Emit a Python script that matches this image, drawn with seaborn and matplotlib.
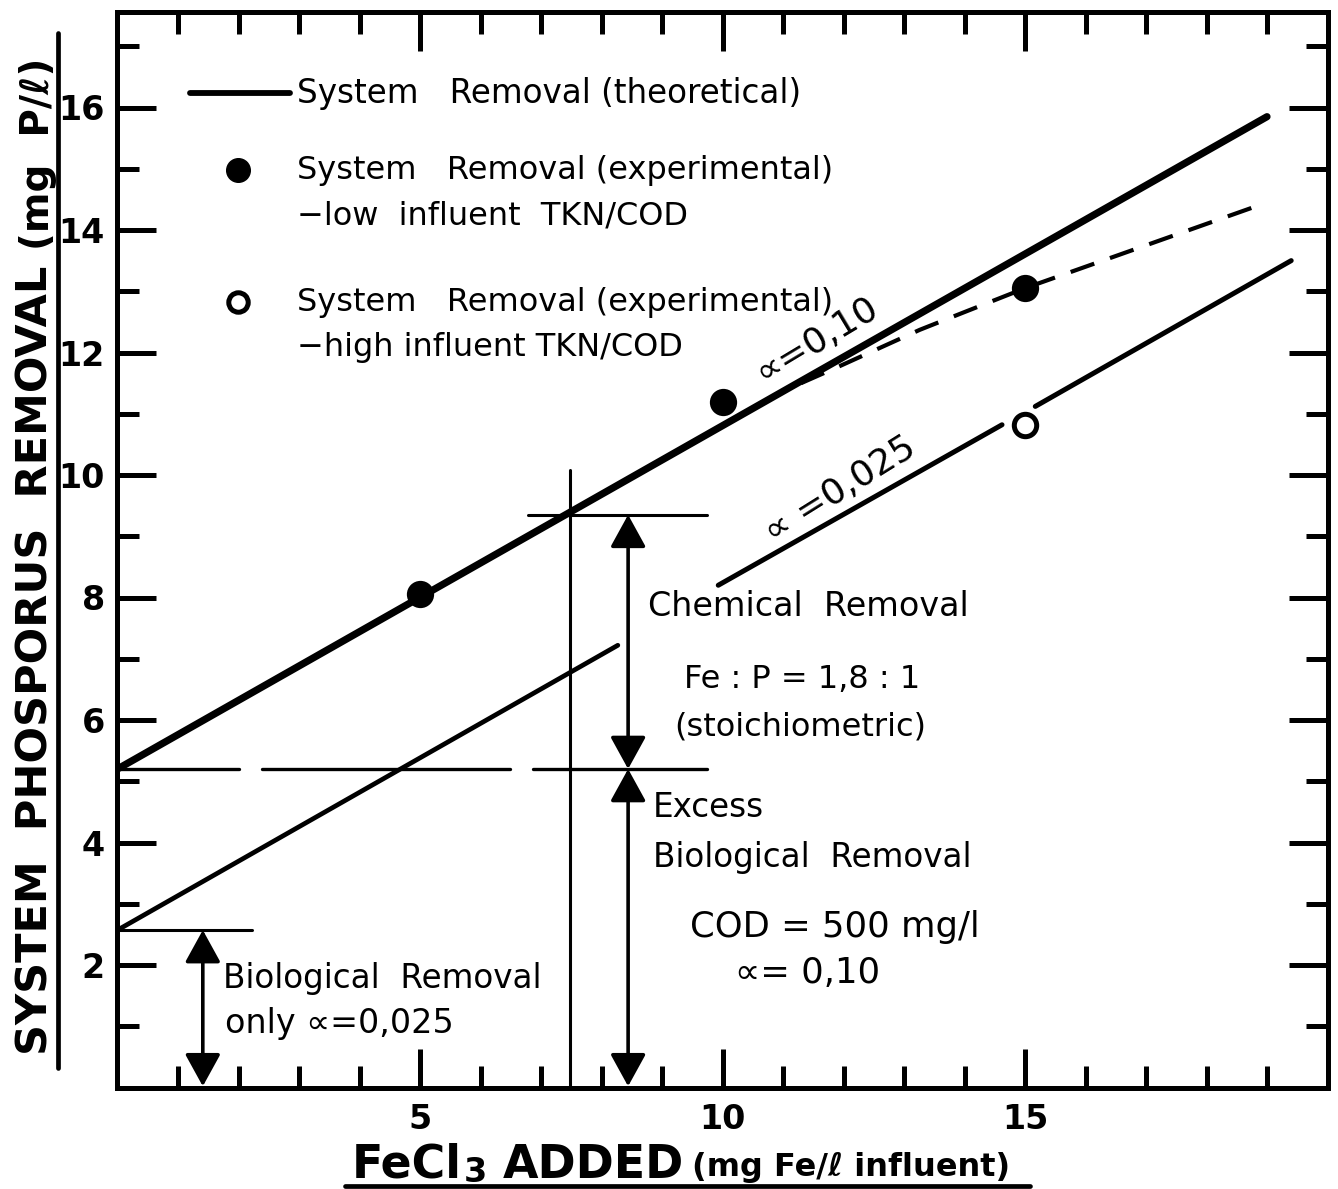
import numpy as np
import pandas as pd
import matplotlib
matplotlib.use("Agg")
import matplotlib.pyplot as plt
from matplotlib.ticker import MultipleLocator, FixedLocator
from matplotlib.lines import Line2D
import seaborn as sns

# ---------------- data ----------------
theory_x = [0.0, 19.0]
theory_y = [5.2, 15.85]

bio_only_x = [0.0, 8.27]
bio_only_y = [2.57, 7.22]

high_seg1_x = [9.93, 14.62]
high_seg1_y = [8.20, 10.82]
high_seg2_x = [15.17, 19.40]
high_seg2_y = [11.12, 13.50]

dashed_x = [11.3, 11.92, 13.26, 14.0, 15.0, 16.0, 18.8]
dashed_y = [11.5, 11.77, 12.37, 12.66, 13.05, 13.40, 14.38]

low_tkn_x = [5, 10, 15]
low_tkn_y = [8.05, 11.2, 13.05]

high_tkn_x = [15]
high_tkn_y = [10.82]

excess_level = 5.2
excess_dash_segments = [(0.0, 2.0), (2.39, 6.49), (6.87, 9.75)]
chem_top = 9.35
chem_top_span = (6.79, 9.75)
bio_level = 2.57
bio_level_span = (0.0, 2.22)
vline_x = 7.48
vline_top = 10.08
arrow_x_main = 8.44
arrow_x_bio = 1.41

x_major = [5, 10, 15]
y_major = [2, 4, 6, 8, 10, 12, 14, 16]

# ---------------- style ----------------
sns.set_theme(style="ticks")
plt.rcParams['font.family'] = ['DejaVu Sans']
plt.rcParams['text.color'] = 'black'
plt.rcParams['axes.labelcolor'] = 'black'
plt.rcParams['xtick.color'] = 'black'
plt.rcParams['ytick.color'] = 'black'
plt.rcParams['axes.linewidth'] = 3.6

K = 'black'
W, H = 1338, 1189
fig = plt.figure(figsize=(W / 100, H / 100), dpi=100)
ax_l, ax_r, ax_t, ax_b = 117.5, 1327.5, 12, 1087.5
ax = fig.add_axes([ax_l / W, (H - ax_b) / H, (ax_r - ax_l) / W, (ax_b - ax_t) / H])
ax.set_xlim(0, 20)
ax.set_ylim(0, (ax_b - ax_t) / 61.25)
for s in ax.spines.values():
    s.set_linewidth(3.6)
    s.set_color(K)


def line(x, y, lw):
    df = pd.DataFrame({'x': x, 'y': y})
    sns.lineplot(data=df, x='x', y='y', ax=ax, color=K, linewidth=lw,
                 estimator=None, sort=False, legend=False)
    return ax.lines[-1]


line(theory_x, theory_y, 5.2).set_solid_capstyle('round')
line(bio_only_x, bio_only_y, 3.4)
line(high_seg1_x, high_seg1_y, 3.6)
line(high_seg2_x, high_seg2_y, 3.6)
l = line(dashed_x, dashed_y, 3.0)
l.set_dashes([6, 4])

for a, b in excess_dash_segments:
    line([a, b], [excess_level, excess_level], 2.4)
line(list(chem_top_span), [chem_top, chem_top], 2.2)
line(list(bio_level_span), [bio_level, bio_level], 2.2)
line([vline_x, vline_x], [0, vline_top], 2.2)

# points
sns.scatterplot(x=low_tkn_x, y=low_tkn_y, ax=ax, s=330, color=K, edgecolor=K, zorder=5)
sns.scatterplot(x=high_tkn_x, y=high_tkn_y, ax=ax, s=260, facecolor='white',
                edgecolor=K, linewidth=3.6, zorder=5)

# arrows
aprops = dict(arrowstyle='<|-|>,head_length=1.0,head_width=0.55', mutation_scale=20,
              lw=2.6, color=K, shrinkA=0, shrinkB=0)
ax.annotate('', xy=(arrow_x_main, excess_level), xytext=(arrow_x_main, chem_top), arrowprops=aprops)
ax.annotate('', xy=(arrow_x_main, 0.02), xytext=(arrow_x_main, excess_level), arrowprops=aprops)
ax.annotate('', xy=(arrow_x_bio, 0.02), xytext=(arrow_x_bio, bio_level), arrowprops=aprops)


def dx(px):
    return (px - ax_l) / 60.5


def dy(py):
    return (ax_b - py) / 61.25


fs = 23
# legend-like block drawn inside the axes
line([dx(190), dx(290)], [dy(93), dy(93)], 4.2)
ax.plot([dx(238)], [dy(170)], 'o', color=K, markersize=17)
ax.plot([dx(238)], [dy(302)], 'o', markerfacecolor='white', markeredgecolor=K,
        markersize=14, markeredgewidth=3.6)
ax.text(dx(297), dy(103), 'System   Removal (theoretical)', fontsize=fs + 0.5, va='baseline', ha='left')
ax.text(dx(297), dy(179), 'System   Removal (experimental)', fontsize=fs, va='baseline', ha='left')
ax.text(dx(297), dy(225), '\u2212low  influent  TKN/COD', fontsize=fs, va='baseline', ha='left')
ax.text(dx(297), dy(311), 'System   Removal (experimental)', fontsize=fs, va='baseline', ha='left')
ax.text(dx(297), dy(356), '\u2212high influent TKN/COD', fontsize=fs, va='baseline', ha='left')

ax.text(dx(816), dy(340), '\u221d=0,10', fontsize=26, rotation=31,
        rotation_mode='anchor', ha='center', va='center')
ax.text(dx(840), dy(490), '\u221d =0,025', fontsize=26, rotation=32,
        rotation_mode='anchor', ha='center', va='center')

ax.text(dx(648), dy(616), 'Chemical  Removal', fontsize=fs + 1, va='baseline', ha='left')
ax.text(dx(802), dy(688), 'Fe : P = 1,8 : 1', fontsize=fs, va='baseline', ha='center')
ax.text(dx(800), dy(736), '(stoichiometric)', fontsize=fs, va='baseline', ha='center')
ax.text(dx(653), dy(817), 'Excess', fontsize=fs + 0.5, va='baseline', ha='left')
ax.text(dx(653), dy(867), 'Biological  Removal', fontsize=fs + 0.5, va='baseline', ha='left')
ax.text(dx(835), dy(937), 'COD = 500 mg/l', fontsize=25.5, va='baseline', ha='center')
ax.text(dx(808), dy(983), '\u221d= 0,10', fontsize=25.5, va='baseline', ha='center')
ax.text(dx(223), dy(988), 'Biological  Removal', fontsize=fs + 0.5, va='baseline', ha='left')
ax.text(dx(225), dy(1033), 'only \u221d=0,025', fontsize=fs + 1, va='baseline', ha='left')

# ticks
ax.xaxis.set_major_locator(FixedLocator(x_major))
ax.xaxis.set_minor_locator(MultipleLocator(1))
ax.yaxis.set_major_locator(FixedLocator(y_major))
ax.yaxis.set_minor_locator(MultipleLocator(1))
ax.tick_params(which='both', direction='in', top=True, right=True, width=3.6, color=K)
ax.tick_params(which='major', length=28)
ax.tick_params(which='minor', length=16)
ax.tick_params(axis='x', which='major', pad=11)
ax.tick_params(axis='y', which='major', pad=9)
ax.set_xticklabels([str(v) for v in x_major], fontsize=24, fontweight='bold')
ax.set_yticklabels([str(v) for v in y_major], fontsize=24, fontweight='bold')
ax.set_xlabel('')
ax.set_ylabel('')


# axis titles (composite, underlined)
def fx(px):
    return px / W


def fy(py):
    return (H - py) / H


fig.text(fx(47), fy(1055), 'SYSTEM  PHOSPORUS  REMOVAL', fontsize=31, fontweight='bold',
         rotation=90, rotation_mode='anchor', ha='left', va='baseline')
fig.text(fx(49), fy(250), '(mg  P/\u2113)', fontsize=28, fontweight='bold',
         rotation=90, rotation_mode='anchor', ha='left', va='baseline')
fig.add_artist(Line2D([fx(58), fx(58)], [fy(1068), fy(33)], color=K, lw=3.4))

fig.canvas.draw()
renderer = fig.canvas.get_renderer()


def right_px(t):
    return t.get_window_extent(renderer).x1


t1 = fig.text(fx(352), fy(1178), 'FeCl', fontsize=33, fontweight='bold', ha='left', va='baseline')
x1 = right_px(t1)
t2 = fig.text((x1 + 2) / W, fy(1182), '3', fontsize=24, fontweight='bold', ha='left', va='baseline')
x2 = right_px(t2)
t3 = fig.text((x2 + 16) / W, fy(1178), 'ADDED', fontsize=33, fontweight='bold', ha='left', va='baseline')
x3 = right_px(t3)
fig.text((x3 + 8) / W, fy(1176), '(mg Fe/\u2113 influent)', fontsize=23, fontweight='bold',
         ha='left', va='baseline')
fig.add_artist(Line2D([fx(345), fx(1030)], [fy(1186), fy(1186)], color=K, lw=3.4))

fig.savefig('out.png', dpi=100, facecolor='white')
